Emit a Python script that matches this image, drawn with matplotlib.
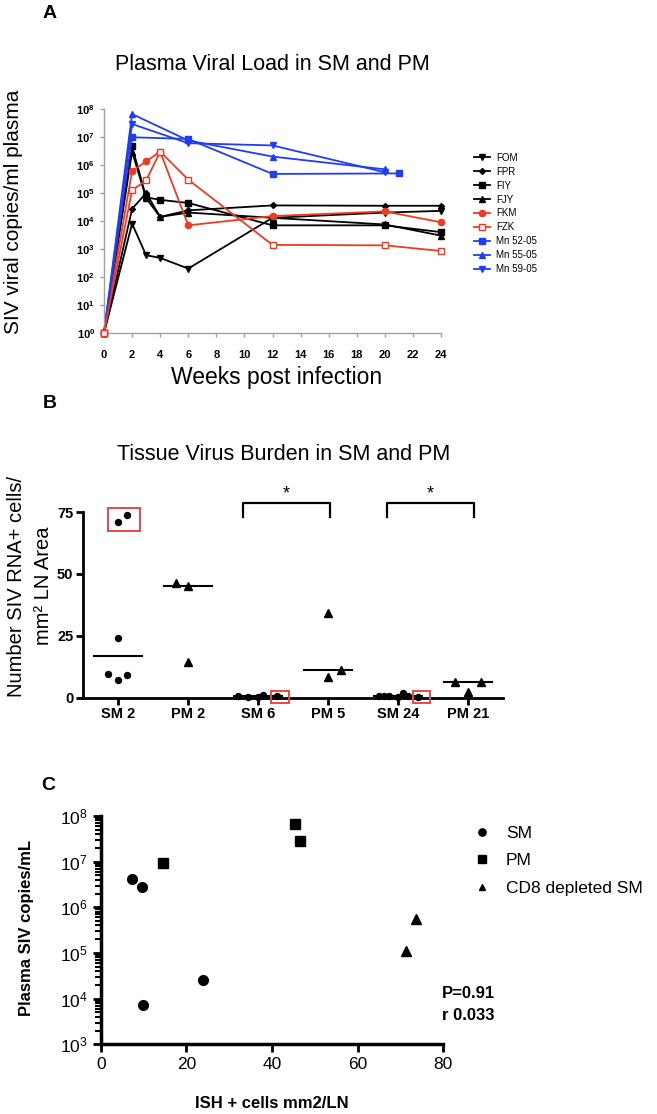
import numpy as np
import matplotlib.pyplot as plt
from matplotlib.ticker import FixedLocator, FuncFormatter, LogLocator, NullLocator
from matplotlib.patches import Rectangle

plt.rcParams['font.family'] = ['Liberation Sans', 'DejaVu Sans']
plt.rcParams['mathtext.fontset'] = 'custom'
plt.rcParams['mathtext.rm'] = 'Liberation Sans'
plt.rcParams['mathtext.bf'] = 'Liberation Sans:bold'
plt.rcParams['mathtext.default'] = 'rm'

W, H = 657, 1114

# ---- panel A: plasma viral load per animal ----
weeks = [0, 2, 3, 4, 6, 12, 20, 24]
FOM = [1, 8e3, 6e2, 4.8e2, 2e2, 1.3e4, 2e4, 2.3e4]
FPR = [1, 2.7e4, 1e5, 1.4e4, 2.4e4, 3.6e4, 3.5e4, 3.5e4]
FIY = [1, 4.6e6, 7e4, 5.7e4, 4.4e4, 7e3, 7e3, 4e3]
FJY = [1, 3e6, 6.5e4, 1.4e4, 2e4, 1.3e4, 7.5e3, 3e3]
FKM = [1, 6e5, 1.35e6, 3e6, 7e3, 1.5e4, 2.2e4, 9e3]
FZK = [1, 1.25e5, 2.8e5, 3e6, 3e5, 1.4e3, 1.35e3, 8.5e2]
weeks_mn52 = [0, 2, 6, 12, 21]
Mn52 = [1, 9.8e6, 8.5e6, 4.8e5, 5e5]
weeks_mn = [0, 2, 6, 12, 20]
Mn55 = [1, 6.6e7, 7.5e6, 2e6, 7e5]
Mn59 = [1, 2.9e7, 6e6, 5e6, 5.5e5]

# ---- panel B: tissue virus burden ----
groups_b = ['SM 2', 'PM 2', 'SM 6', 'PM 5', 'SM 24', 'PM 21']
SM2 = [71.1, 73.7, 24.0, 9.6, 7.2, 9.2]
PM2 = [46.4, 45.1, 14.5]
SM6 = [0.5, 0.3, 0.2, 1.2, 0.6]
PM5 = [34.1, 8.2, 11.2]
SM24 = [0.7, 0.5, 0.7, 0.3, 1.8, 0.5, 0.4]
PM21 = [6.5, 6.5, 2.4]
# horizontal scatter of the points inside each column
jit_SM2 = [0.0, 0.13, 0.0, -0.14, 0.0, 0.13]
jit_PM2 = [-0.17, 0.0, 0.0]
jit_SM6 = [-0.29, -0.14, 0.0, 0.07, 0.27]
jit_PM5 = [0.0, 0.0, 0.18]
jit_SM24 = [-0.27, -0.2, -0.13, 0.0, 0.07, 0.14, 0.29]
jit_PM21 = [-0.19, 0.18, 0.0]
boxed = {0: [0, 1], 2: [4], 4: [6]}   # red boxes (CD8 depleted animals)

# ---- panel C: plasma vs ISH ----
sm_x = [7.4, 9.55, 9.8, 23.8]
sm_y = [4.1e6, 2.8e6, 7.1e3, 2.5e4]
pm_x = [14.6, 45.4, 46.5]
pm_y = [9.2e6, 6.7e7, 2.8e7]
cd8_x = [73.6, 71.3]
cd8_y = [5.6e5, 1.1e5]

RED = '#ee3b22'
BLUE = '#1f3df2'


def fx(x):
    return x / W


def fy(y):
    return 1 - y / H


def axes_px(l, t, r, b):
    return fig.add_axes([fx(l), fy(b), (r - l) / W, (b - t) / H])


fig = plt.figure(figsize=(W / 100, H / 100), dpi=100)

# ================= A =================
axA = axes_px(104, 109, 441, 333)
series = [
    ('FOM', weeks, FOM, dict(color='k', marker='v', ms=4.5)),
    ('FPR', weeks, FPR, dict(color='k', marker='D', ms=3)),
    ('FIY', weeks, FIY, dict(color='k', marker='s', ms=4.5)),
    ('FJY', weeks, FJY, dict(color='k', marker='^', ms=4.5)),
    ('FKM', weeks, FKM, dict(color=RED, marker='o', ms=4.5)),
    ('FZK', weeks, FZK, dict(color=RED, marker='s', ms=5, mfc='white', zorder=4)),
    ('Mn 52-05', weeks_mn52, Mn52, dict(color=BLUE, marker='s', ms=5)),
    ('Mn 55-05', weeks_mn, Mn55, dict(color=BLUE, marker='^', ms=5)),
    ('Mn 59-05', weeks_mn, Mn59, dict(color=BLUE, marker='v', ms=5)),
]
for name, xs, ys, st in series:
    st = dict(st)
    st.setdefault('mfc', st['color'])
    axA.plot(xs, ys, label=name, lw=1.3, mec=st['color'], mew=1.0,
             clip_on=False, **st)
axA.set_yscale('log')
axA.set_xlim(0, 24)
axA.set_ylim(1, 1e8)
axA.xaxis.set_major_locator(FixedLocator(range(0, 25, 2)))
axA.yaxis.set_major_locator(FixedLocator([10.0 ** k for k in range(9)]))
axA.yaxis.set_minor_locator(NullLocator())
axA.yaxis.set_major_formatter(FuncFormatter(
    lambda v, p: r'$\mathbf{10^{%d}}$' % round(np.log10(v))))
for s in ['top', 'right']:
    axA.spines[s].set_visible(False)
for s in ['left', 'bottom']:
    axA.spines[s].set_color('#a0a0a0')
    axA.spines[s].set_linewidth(1.0)
axA.tick_params(colors='#a0a0a0', labelcolor='k', length=3, width=1,
                labelsize=8)
for lab in axA.get_xticklabels():
    lab.set_fontweight('bold')
axA.tick_params(axis='x', pad=9)
axA.legend(loc='upper left', bbox_to_anchor=(fx(470), fy(149)),
           bbox_transform=fig.transFigure, frameon=False, fontsize=7,
           handlelength=1.7, handletextpad=0.6, labelspacing=0.4,
           borderaxespad=0)
fig.text(fx(50), fy(14), 'A', fontsize=14, fontweight='bold',
         ha='center', va='center')
fig.text(fx(272), fy(64), 'Plasma Viral Load in SM and PM', fontsize=15.5,
         ha='center', va='center')
fig.text(fx(14), fy(212), 'SIV viral copies/ml plasma', fontsize=15,
         rotation=90, ha='center', va='center')
fig.text(fx(277), fy(378), 'Weeks post infection', fontsize=16.5,
         ha='center', va='center')

# ================= B =================
axB = axes_px(83, 512, 503, 697.7)
vals_b = [SM2, PM2, SM6, PM5, SM24, PM21]
jits_b = [jit_SM2, jit_PM2, jit_SM6, jit_PM5, jit_SM24, jit_PM21]
for i, (v, j) in enumerate(zip(vals_b, jits_b)):
    pos = i + 1
    xs = [pos + d for d in j]
    if groups_b[i].startswith('SM'):
        axB.plot(xs, v, 'o', color='k', ms=4.3, clip_on=False, zorder=3)
    else:
        axB.plot(xs, v, '^', color='k', ms=5.5, clip_on=False, zorder=3)
    med = np.median(v)
    axB.plot([pos - 0.34, pos + 0.34], [med, med], color='k', lw=1.5,
             clip_on=False)
    if i in boxed:
        bx = [xs[k] for k in boxed[i]]
        by = [v[k] for k in boxed[i]]
        x0, x1 = min(bx) - 0.14, max(bx) + 0.19
        y0, y1 = min(by) - 3.9, max(by) + 2.9
        if max(by) < 5:
            x0, x1 = min(bx) - 0.08, max(bx) + 0.17
            y0, y1 = -2.2, 2.7
        axB.add_patch(Rectangle((x0, y0), x1 - x0, y1 - y0, fill=False,
                                ec='#e84848', lw=1.4, clip_on=False, zorder=4))

# significance brackets
for a, b in [(2.79, 4.03), (4.84, 6.08)]:
    axB.plot([a, a, b, b], [73.1, 78.5, 78.5, 73.1], color='k', lw=1.6,
             clip_on=False)
    axB.text((a + b) / 2, 78.8, '*', fontsize=13, ha='center', va='bottom')

axB.set_xlim(0.5, 6.5)
axB.set_ylim(0, 75)
axB.set_xticks(range(1, 7))
axB.set_xticklabels(groups_b, fontweight='bold')
axB.set_yticks([0, 25, 50, 75])
for lab in axB.get_yticklabels():
    lab.set_fontweight('bold')
for s in ['top', 'right']:
    axB.spines[s].set_visible(False)
for s in ['left', 'bottom']:
    axB.spines[s].set_linewidth(2)
axB.tick_params(length=5, width=2, labelsize=10.5, pad=2)
fig.text(fx(50), fy(404), 'B', fontsize=14, fontweight='bold',
         ha='center', va='center')
fig.text(fx(284), fy(455), 'Tissue Virus Burden in SM and PM', fontsize=15.5,
         ha='center', va='center')
fig.text(fx(30), fy(586), 'Number SIV RNA+ cells/\nmm\u00b2 LN Area',
         fontsize=14.5, rotation=90, ha='center', va='center',
         linespacing=1.5, multialignment='center')

# ================= C =================
axC = axes_px(100.7, 816, 443.3, 1044.3)
axC.plot(sm_x, sm_y, 'o', color='k', ms=7, label='SM', clip_on=False)
axC.plot(pm_x, pm_y, 's', color='k', ms=7, label='PM', clip_on=False)
axC.plot(cd8_x, cd8_y, '^', color='k', ms=6.5, label='CD8 depleted SM',
         clip_on=False)
axC.set_yscale('log')
axC.set_xlim(0, 80)
axC.set_ylim(1e3, 1e8)
axC.set_xticks([0, 20, 40, 60, 80])
axC.yaxis.set_major_locator(FixedLocator([10.0 ** k for k in range(3, 9)]))
axC.yaxis.set_minor_locator(LogLocator(base=10, subs=np.arange(2, 10)))
axC.yaxis.set_major_formatter(FuncFormatter(
    lambda v, p: r'$10^{%d}$' % round(np.log10(v))))
axC.yaxis.set_minor_formatter(FuncFormatter(lambda v, p: ''))
for s in ['top', 'right']:
    axC.spines[s].set_visible(False)
for s in ['left', 'bottom']:
    axC.spines[s].set_linewidth(2.5)
axC.tick_params(which='major', length=6, width=2, labelsize=12.5)
axC.tick_params(which='minor', length=4, width=1.5)
axC.legend(loc='upper left', bbox_to_anchor=(fx(466), fy(819)),
           bbox_transform=fig.transFigure, frameon=False, fontsize=12.5,
           handlelength=1.0, handletextpad=0.9, labelspacing=0.7,
           borderaxespad=0, markerscale=0.75)
axC.text(fx(442), fy(993), 'P=0.91', transform=fig.transFigure,
         fontsize=12, fontweight='bold', ha='left', va='center')
axC.text(fx(442), fy(1015), 'r 0.033', transform=fig.transFigure,
         fontsize=12, fontweight='bold', ha='left', va='center')
fig.text(fx(48), fy(786), 'C', fontsize=14, fontweight='bold',
         ha='center', va='center')
fig.text(fx(27), fy(928), 'Plasma SIV copies/mL', fontsize=12,
         fontweight='bold', rotation=90, ha='center', va='center')
fig.text(fx(272), fy(1103), 'ISH + cells mm2/LN', fontsize=12,
         fontweight='bold', ha='center', va='center')

fig.savefig('out.png', dpi=100)
